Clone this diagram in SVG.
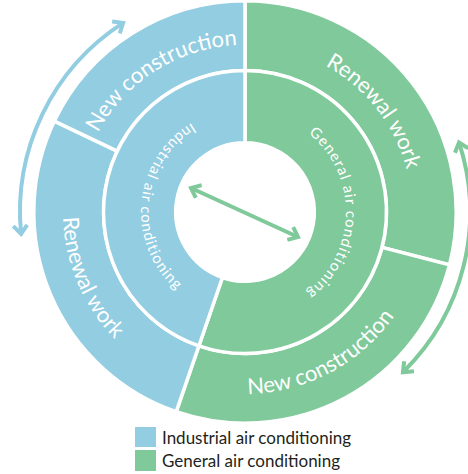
<svg xmlns="http://www.w3.org/2000/svg" width="468" height="474" viewBox="0 0 468 474">
<style>
.blue{fill:#93cde1;stroke:#fff;stroke-width:3.5;stroke-linejoin:miter}
.green{fill:#80c99b;stroke:#fff;stroke-width:3.5;stroke-linejoin:miter}
.lbl{fill:#fff;font-family:Lato,"Open Sans",sans-serif;font-weight:400}
.outer{font-size:22px}
.inner{font-size:15px;letter-spacing:1.1px}
.arrB{fill:none;stroke:#93cde1;stroke-width:4}
.arrG{fill:none;stroke:#80c99b;stroke-width:4}
.leg{font-family:Lato,"Open Sans",sans-serif;font-size:17px;fill:#231f20}
</style>
<defs>
<marker id="hB" markerUnits="userSpaceOnUse" viewBox="-14 -12 18 24" markerWidth="18" markerHeight="24" refX="0" refY="0" orient="auto-start-reverse" overflow="visible">
<path d="M-8.5,-7 L0,0 L-8.5,7" fill="none" stroke="#93cde1" stroke-width="4"/>
</marker>
<marker id="hG" markerUnits="userSpaceOnUse" viewBox="-14 -12 18 24" markerWidth="18" markerHeight="24" refX="0" refY="0" orient="auto-start-reverse" overflow="visible">
<path d="M-8.5,-7 L0,0 L-8.5,7" fill="none" stroke="#80c99b" stroke-width="4"/>
</marker>
<path id="tBNC" d="M90.38,275.10 A167,167 0 0 1 368.71,99.82"/>
<path id="tGRW" d="M166.60,64.55 A167,167 0 0 1 369.10,323.74"/>
<path id="tGNC" d="M101.58,324.05 A182,182 0 0 0 418.09,155.76"/>
<path id="tBRW" d="M145.88,59.36 A182,182 0 0 0 285.94,389.34"/>
<path id="tInd" d="M235.94,108.40 A104,104 0 0 0 218.08,312.46"/>
<path id="tGen" d="M264.27,112.86 A101,101 0 0 1 260.80,311.76"/>
</defs>

<g id="green-renewal-work">
<path class="green" d="M245,0.8 A211.2,211.2 0 0 1 449.47,264.88 L381.99,247.43 A141.5,141.5 0 0 0 245,70.5 Z"/>
<text class="lbl outer"><textPath href="#tGRW" startOffset="50%" text-anchor="middle">Renewal work</textPath></text>
</g>
<g id="green-new-construction">
<path class="green" d="M449.47,264.88 A211.2,211.2 0 0 1 176.24,411.69 L198.93,345.79 A141.5,141.5 0 0 0 381.99,247.43 Z"/>
<text class="lbl outer"><textPath href="#tGNC" startOffset="50%" text-anchor="middle">New construction</textPath></text>
</g>
<g id="blue-renewal-work">
<path class="blue" d="M176.24,411.69 A211.2,211.2 0 0 1 54.37,121.08 L117.28,151.08 A141.5,141.5 0 0 0 198.93,345.79 Z"/>
<text class="lbl outer"><textPath href="#tBRW" startOffset="50%" text-anchor="middle">Renewal work</textPath></text>
</g>
<g id="blue-new-construction">
<path class="blue" d="M54.37,121.08 A211.2,211.2 0 0 1 245,0.8 L245,70.5 A141.5,141.5 0 0 0 117.28,151.08 Z"/>
<text class="lbl outer"><textPath href="#tBNC" startOffset="50%" text-anchor="middle">New construction</textPath></text>
</g>
<g id="general-air-conditioning">
<path class="green" d="M245,70.5 A141.5,141.5 0 1 1 198.93,345.79 L222.44,277.52 A69.3,69.3 0 1 0 245,142.7 Z"/>
<text class="lbl inner"><textPath href="#tGen" startOffset="50%" text-anchor="middle">General air conditioning</textPath></text>
</g>
<g id="industrial-air-conditioning">
<path class="blue" d="M198.93,345.79 A141.5,141.5 0 0 1 245,70.5 L245,142.7 A69.3,69.3 0 0 0 222.44,277.52 Z"/>
<text class="lbl inner"><textPath href="#tInd" startOffset="50%" text-anchor="middle">Industrial air conditioning</textPath></text>
</g>

<g id="connectors">
<path class="arrB" d="M21.07,233.96 A225,225 0 0 1 123.12,22.87" marker-start="url(#hB)" marker-end="url(#hB)"/>
<path class="arrG" d="M458.99,142.47 A224,224 0 0 1 402.98,372.21" marker-start="url(#hG)" marker-end="url(#hG)"/>
<path class="arrG" d="M191,188 L298,237" marker-start="url(#hG)" marker-end="url(#hG)"/>
</g>

<g id="legend-industrial">
<rect x="135" y="427" width="21" height="20" fill="#93cde1"/>
<text class="leg" x="162" y="444">Industrial air conditioning</text>
</g>
<g id="legend-general">
<rect x="135" y="450" width="21" height="21" fill="#80c99b"/>
<text class="leg" x="162" y="467">General air conditioning</text>
</g>
</svg>
